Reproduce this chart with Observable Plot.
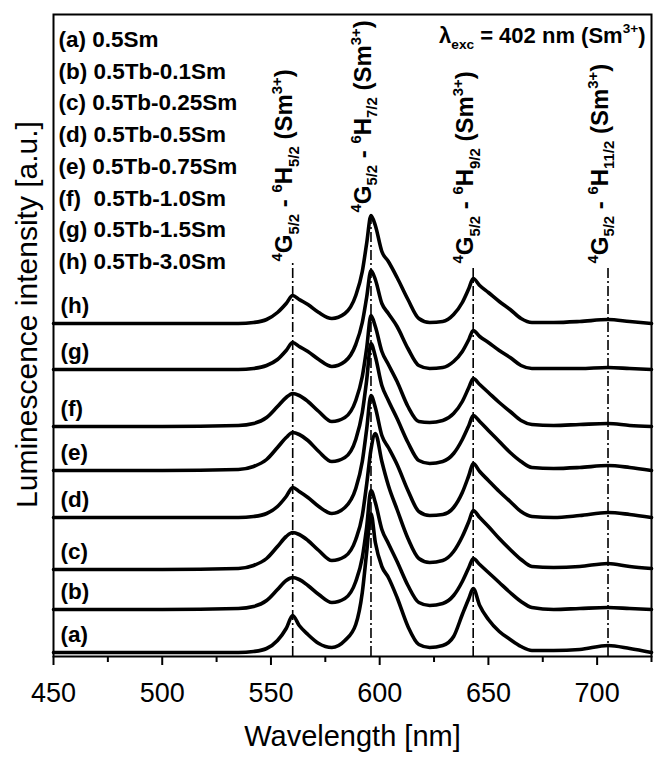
<!DOCTYPE html>
<html><head><meta charset="utf-8">
<script src="https://cdn.jsdelivr.net/npm/d3@7"></script>
<script src="https://cdn.jsdelivr.net/npm/@observablehq/plot@0.6"></script>
<style>
body{margin:0;background:#fff;}
#chart svg text{white-space:pre;}
</style></head><body><div id="chart"></div>
<script>
// Wavelength grid (nm)
const wavelengths = [450, 500, 535, 542, 548, 553, 557, 560, 563, 567, 572, 578, 584, 589, 592, 594, 596, 598, 601, 604, 608, 613, 618, 623, 629, 634, 638, 641, 643, 646, 650, 655, 660, 665, 670, 680, 692, 705, 715, 725];

// Series labels and vertical stacking offsets (a.u.)
const seriesNames = ["(a)", "(b)", "(c)", "(d)", "(e)", "(f)", "(g)", "(h)"];
const seriesOffsets = [4, 47, 87, 139, 186, 230, 287, 333];
const legendLines = ["(a) 0.5Sm", "(b) 0.5Tb-0.1Sm", "(c) 0.5Tb-0.25Sm", "(d) 0.5Tb-0.5Sm", "(e) 0.5Tb-0.75Sm", "(f)  0.5Tb-1.0Sm", "(g) 0.5Tb-1.5Sm", "(h) 0.5Tb-3.0Sm"];

// Intensities (a.u., above each curve's own baseline)
const curveA = [0,0,0,1,4,12,24,37,27,18, 9,5,12,28,60,100,139,110,86,75, 55,26,8,5,7,16,38,54,64,47, 33,21,13,6,2,2,3,7,4,0];
const curveB = [0,0,1,3,9,20,29,32,30,24, 15,7,11,28,52,82,119,107,80,66, 48,24,7,4,6,14,28,42,51,45, 37,27,17,8,2,0,1,2,1,0];
const curveC = [0,0,1,4,11,23,33,37,35,29, 19,9,13,30,54,85,120,136,108,84, 60,31,11,7,9,18,33,48,59,52, 43,31,20,10,3,2,3,6,3,1];
const curveD = [0,0,0,1,4,11,21,30,26,20, 11,4,10,29,56,88,122,110,82,70, 53,27,6,2,3,10,25,42,54,46, 37,26,16,6,1,0,2,5,3,0];
const curveE = [0,0,1,4,11,23,33,38,36,30, 19,9,13,31,58,90,127,114,85,70, 52,28,10,7,9,17,31,45,55,49, 40,29,18,9,3,2,3,5,3,0];
const curveF = [0,0,1,3,9,20,29,33,31,25, 15,5,9,26,50,78,111,100,75,62, 45,20,5,4,6,13,25,39,48,42, 34,24,15,6,2,1,2,3,1,0];
const curveG = [0,0,0,1,4,10,19,27,23,18, 10,3,8,25,47,72,99,90,66,56, 43,21,4,1,2,8,18,30,39,33, 27,19,12,4,1,1,1,2,1,0];
const curveH = [0,0,0,1,4,11,20,28,24,19, 11,5,10,28,52,80,108,98,72,62, 46,24,5,1,2,9,21,35,45,38, 31,22,14,5,1,1,2,4,2,0];

// Transitions (nm), top of marker line (a.u.), labels
const transitionWl = [560, 596, 643, 705];
const transitionTop = [393, 442, 391, 391];
const transitionLabels = [
  "^{4}G_{5/2} - ^{6}H_{5/2} (Sm^{3+})",
  "^{4}G_{5/2} - ^{6}H_{7/2} (Sm^{3+})",
  "^{4}G_{5/2} - ^{6}H_{9/2} (Sm^{3+})",
  "^{4}G_{5/2} - ^{6}H_{11/2} (Sm^{3+})"
];
const majorTicks = [450, 500, 550, 600, 650, 700];
const minorTicks = [475, 525, 575, 625, 675, 725];
const excitationLabel = "λ_{exc} = 402 nm (Sm^{3+})";
const xLabel = "Wavelength [nm]";
const yLabel = "Luminescence intensity [a.u.]";

const curves = [curveA, curveB, curveC, curveD, curveE, curveF, curveG, curveH];
const data = [];
seriesNames.forEach((name, k) => curves[k].forEach((v, i) => data.push({wl: wavelengths[i], y: seriesOffsets[k] + v, s: name})));
const seriesLabels = seriesNames.map((name, k) => ({wl: wavelengths[0], y: seriesOffsets[k], t: name}));
const transitions = transitionWl.map((wl, i) => ({wl, top: transitionTop[i], label: transitionLabels[i]}));

const FONT = "'Liberation Sans', Arial, Helvetica, sans-serif";

const chart = Plot.plot({
  width: 660, height: 763,
  marginLeft: 53, marginRight: 9, marginTop: 14, marginBottom: 107,
  style: {fontFamily: FONT, color: "#000", background: "#fff", overflow: "visible"},
  x: {domain: [450, 725]},
  y: {domain: [0, 642], axis: null},
  marks: [
    Plot.ruleX(transitions, {x: "wl", y1: 0, y2: "top", stroke: "#000", strokeWidth: 1.6, strokeDasharray: "10,3,2,3"}),
    Plot.line(data, {x: "wl", y: "y", z: "s", stroke: "#000", strokeWidth: 3.6, curve: "monotone-x", strokeLinejoin: "round"}),
    Plot.frame({stroke: "#000", strokeWidth: 2}),
    Plot.axisX({ticks: majorTicks, tickSize: 9, tickPadding: 17, fontSize: 27, strokeWidth: 2, label: null}),
    Plot.axisX({ticks: minorTicks, tickSize: 6, tickFormat: () => "", strokeWidth: 2, label: null}),
    Plot.text(transitions, {x: "wl", y: "top", text: "label", rotate: -90, textAnchor: "start", lineAnchor: "middle", dx: -8, dy: -2, fontSize: 24, fontWeight: "bold"}),
    Plot.text(seriesLabels, {x: "wl", y: "y", text: "t", textAnchor: "start", lineAnchor: "middle", dx: 7, dy: -18, fontSize: 22.5, fontWeight: "bold"}),
    Plot.text([legendLines.join("\n")], {text: d => d, frameAnchor: "top-left", textAnchor: "start", lineAnchor: "top", dx: 5, dy: 10, lineHeight: 1.41, fontSize: 22.5, fontWeight: "bold"}),
    Plot.text([excitationLabel], {text: d => d, frameAnchor: "top-right", textAnchor: "end", lineAnchor: "middle", dx: -6, dy: 21, fontSize: 22, fontWeight: "bold"}),
    Plot.text([xLabel], {text: d => d, frameAnchor: "bottom", textAnchor: "middle", lineAnchor: "middle", dy: 80, fontSize: 29}),
    Plot.text([yLabel], {text: d => d, frameAnchor: "left", rotate: -90, textAnchor: "middle", lineAnchor: "middle", dx: -26, dy: -21, fontSize: 30})
  ]
});
document.getElementById("chart").appendChild(chart);

function richify(root) {
  const NS = "http://www.w3.org/2000/svg";
  root.querySelectorAll("text").forEach(t => {
    const s = t.textContent;
    if (!/[\^_]\{/.test(s)) return;
    const fs = parseFloat(getComputedStyle(t).fontSize) || 20;
    const parts = s.split(/(\^\{[^}]*\}|_\{[^}]*\})/).filter(p => p.length);
    while (t.firstChild) t.removeChild(t.firstChild);
    let cur = 0;
    for (const p of parts) {
      let target = 0, txt = p, size = null;
      if (p[0] === "^" && p[1] === "{") { target = -0.42 * fs; txt = p.slice(2, -1); size = 0.62 * fs; }
      else if (p[0] === "_" && p[1] === "{") { target = 0.28 * fs; txt = p.slice(2, -1); size = 0.62 * fs; }
      const ts = document.createElementNS(NS, "tspan");
      const d = target - cur;
      if (d) ts.setAttribute("dy", d.toFixed(2));
      if (size) ts.setAttribute("font-size", size.toFixed(2));
      ts.textContent = txt;
      t.appendChild(ts);
      cur = target;
    }
  });
}
richify(chart);
</script>
</body></html>
